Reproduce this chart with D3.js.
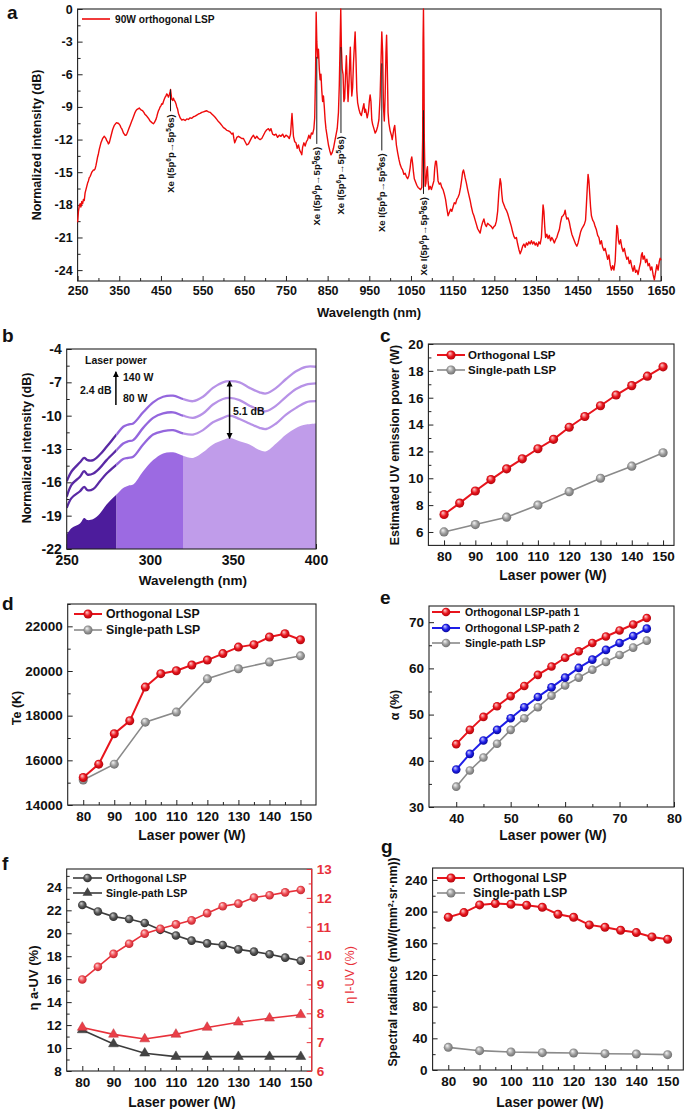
<!DOCTYPE html>
<html><head><meta charset="utf-8">
<script src="https://cdn.jsdelivr.net/npm/d3@7"></script>
<style>
body{margin:0;background:#fff;}
svg{display:block;}
</style></head><body>
<svg id="fig" width="685" height="1109"></svg>
<script>
// ================= DATA =================
// Panel a: 90W orthogonal LSP spectrum [wavelength nm, normalized intensity dB]
const spectrum90W = [
[250,-19.6],[252,-18.6],[254,-18.1],[256,-17.9],[258,-18.2],[260,-17.7],[262,-17.9],[264,-17.5],[266,-17.6],[268,-16.9],
[270,-16.6],[272,-16.3],[274,-16.0],[276,-15.8],[278,-15.5],[280,-15.4],[282,-15.2],[284,-15.0],[286,-14.9],[288,-14.8],
[290,-14.8],[292,-14.7],[294,-14.4],[296,-14.0],[298,-13.6],[300,-13.3],[302,-12.9],[304,-12.6],[306,-12.3],[308,-12.1],
[310,-11.9],[312,-11.8],[314,-11.7],[316,-11.8],[318,-11.9],[320,-12.1],[322,-12.2],[324,-12.4],[326,-12.3],[328,-12.0],
[330,-11.7],[332,-11.4],[334,-11.1],[336,-10.9],[338,-10.7],[340,-10.6],[342,-10.5],[344,-10.45],[346,-10.5],[348,-10.5],
[350,-10.6],[352,-10.7],[354,-10.9],[356,-11.0],[358,-11.2],[360,-11.4],[362,-11.5],[364,-11.6],[366,-11.6],[368,-11.5],
[370,-11.3],[372,-11.1],[374,-10.9],[376,-10.7],[378,-10.5],[380,-10.3],[382,-10.1],[384,-9.9],[386,-9.7],[388,-9.5],
[390,-9.35],[392,-9.25],[394,-9.2],[396,-9.15],[398,-9.1],[400,-9.2],[403,-9.3],[406,-9.35],[409,-9.5],[412,-9.7],
[415,-9.8],[418,-9.95],[421,-10.1],[424,-10.3],[427,-10.4],[430,-10.5],[432,-10.55],[434,-10.45],[436,-10.3],[438,-10.15],
[440,-9.9],[442,-9.6],[444,-9.35],[446,-9.2],[448,-9.0],[450,-8.9],[452,-8.7],[454,-8.75],[456,-8.5],[458,-8.3],
[460,-8.1],[462,-8.0],[464,-7.8],[466,-7.9],[468,-8.1],[470,-7.9],[472,-7.6],[473,-7.4],[474,-7.7],[476,-8.3],
[478,-8.4],[480,-8.2],[482,-8.4],[484,-8.5],[486,-8.7],[488,-9.0],[490,-9.2],[492,-9.6],[494,-9.8],[496,-10.0],
[498,-10.1],[500,-10.2],[504,-10.15],[508,-10.25],[512,-10.1],[516,-10.15],[520,-10.0],[524,-10.05],[528,-9.9],[532,-9.85],
[536,-9.75],[540,-9.65],[544,-9.6],[548,-9.5],[552,-9.45],[556,-9.4],[560,-9.35],[564,-9.45],[568,-9.5],[572,-9.65],
[576,-9.8],[580,-9.95],[584,-10.15],[588,-10.35],[592,-10.5],[596,-10.7],[600,-10.9],[604,-11.0],[608,-11.15],[612,-11.2],
[616,-11.3],[620,-11.5],[623,-11.4],[625,-11.9],[627,-12.3],[629,-12.1],[632,-11.8],[636,-11.7],[640,-11.8],[644,-11.9],
[648,-11.9],[652,-12.2],[656,-12.5],[660,-12.4],[664,-12.1],[668,-11.8],[672,-11.6],[676,-11.9],[680,-11.7],[684,-11.9],
[688,-12.0],[692,-11.9],[696,-11.6],[700,-11.3],[704,-11.1],[708,-11.0],[711,-11.2],[714,-11.0],[718,-11.5],[722,-11.6],
[726,-11.5],[730,-11.8],[734,-11.6],[738,-11.7],[742,-11.5],[746,-11.8],[750,-11.6],[754,-11.7],[758,-11.9],[761,-11.5],
[763,-10.4],[764.5,-9.6],[766,-10.5],[768,-11.7],[771,-12.2],[774,-12.3],[777,-12.8],[780,-12.5],[783,-13.0],[786,-13.2],
[788,-13.4],[790,-12.7],[793,-12.3],[796,-12.6],[799,-12.2],[802,-12.0],[805,-11.6],[808,-11.9],[811,-11.4],[814,-11.5],
[817,-11.0],[819,-10.0],[821,-6.0],[822.5,-0.3],[824,-3.0],[826,-4.5],[828,-3.7],[830,-5.5],[832,-6.5],[834,-6.0],
[836,-7.5],[838,-8.5],[840,-8.0],[842,-9.0],[844,-10.2],[846,-11.0],[848,-11.5],[850,-12.0],[852,-12.5],[855,-13.0],
[858,-13.4],[861,-13.2],[864,-12.8],[867,-12.2],[870,-11.6],[873,-11.0],[876,-9.5],[878,-7.0],[880,-3.0],[881.5,0],
[883,-3.5],[885,-5.5],[887,-6.0],[889,-8.5],[891,-8.2],[893,-6.0],[895,-4.3],[897,-6.5],[899,-8.5],[901,-7.0],
[903,-4.8],[904.5,-3.5],[906,-6.0],[908,-8.0],[910,-7.2],[912,-5.0],[914,-3.5],[916,-2.1],[918,-4.5],[920,-7.5],
[922,-8.6],[925,-9.2],[928,-9.6],[931,-9.8],[934,-9.2],[937,-8.7],[939,-9.5],[941,-9.2],[943,-9.6],[945,-10.0],
[948,-9.4],[950,-8.5],[952,-7.9],[954,-8.5],[956,-10.2],[958,-10.6],[961,-11.0],[964,-11.4],[967,-11.2],[970,-10.8],
[973,-10.2],[976,-8.0],[978,-5.0],[980,-2.1],[982,-4.0],[984,-9.0],[986,-10.3],[988,-8.0],[990,-4.0],[991.5,-2.4],
[993,-5.0],[995,-9.5],[997,-10.5],[1000,-11.2],[1003,-11.6],[1005,-12.0],[1007,-11.5],[1009,-11.0],[1011,-10.7],[1013,-11.6],
[1015,-12.5],[1018,-13.2],[1021,-13.8],[1024,-14.3],[1027,-14.6],[1030,-14.8],[1033,-15.2],[1036,-15.1],[1039,-15.4],[1042,-15.6],
[1045,-15.3],[1048,-14.6],[1050,-13.9],[1052,-13.6],[1054,-14.2],[1056,-15.0],[1058,-15.6],[1061,-15.9],[1064,-16.2],[1067,-16.4],
[1070,-16.5],[1073,-16.6],[1076,-16.4],[1078,-12.0],[1079,-3.0],[1080,0],[1081,-4.0],[1082,-12.0],[1084,-16.3],[1086,-16.0],
[1088,-14.8],[1089.5,-14.5],[1091,-15.8],[1093,-16.6],[1096,-16.3],[1099,-16.6],[1102,-16.2],[1105,-15.8],[1107,-14.6],[1109,-14.0],
[1111,-14.0],[1113,-14.8],[1115,-15.8],[1118,-16.1],[1121,-16.0],[1124,-16.4],[1127,-16.6],[1130,-17.0],[1133,-17.5],[1136,-18.3],
[1139,-19.0],[1142,-18.7],[1145,-18.4],[1148,-18.6],[1151,-18.2],[1154,-17.8],[1157,-17.9],[1160,-17.5],[1163,-17.3],[1166,-17.0],
[1169,-16.4],[1172,-15.6],[1174,-15.0],[1176,-14.8],[1178,-15.1],[1180,-15.5],[1183,-16.0],[1186,-16.6],[1189,-17.1],[1192,-17.6],
[1195,-18.2],[1198,-18.7],[1201,-19.0],[1204,-19.4],[1207,-19.8],[1210,-20.2],[1213,-20.4],[1216,-20.6],[1219,-20.0],[1222,-19.6],
[1225,-19.3],[1228,-19.8],[1231,-20.0],[1234,-19.7],[1237,-19.8],[1240,-19.9],[1243,-20.0],[1246,-20.2],[1249,-20.0],[1252,-19.9],
[1255,-19.5],[1258,-18.6],[1261,-16.8],[1264,-15.6],[1266,-16.0],[1268,-17.0],[1270,-17.7],[1273,-18.0],[1276,-18.3],[1279,-18.5],
[1282,-18.8],[1285,-19.2],[1288,-19.6],[1291,-20.0],[1294,-20.5],[1297,-20.9],[1300,-21.1],[1303,-21.0],[1306,-21.6],[1309,-22.1],
[1312,-22.5],[1315,-22.2],[1318,-21.8],[1321,-21.6],[1324,-21.9],[1327,-21.5],[1330,-21.7],[1333,-21.4],[1336,-21.6],[1339,-21.3],
[1342,-21.6],[1345,-21.4],[1348,-21.7],[1351,-21.5],[1354,-21.8],[1357,-21.4],[1360,-21.6],[1363,-21.0],[1365,-19.5],[1367,-18.0],
[1369,-18.6],[1371,-20.0],[1373,-21.0],[1376,-20.7],[1379,-21.1],[1382,-20.8],[1385,-21.3],[1388,-21.0],[1391,-21.2],[1394,-21.5],
[1397,-21.2],[1400,-21.0],[1403,-20.6],[1406,-20.3],[1409,-19.6],[1412,-19.1],[1415,-19.0],[1418,-18.8],[1420,-18.5],[1422,-19.0],
[1424,-19.3],[1427,-19.2],[1430,-19.6],[1433,-20.2],[1436,-20.7],[1439,-21.0],[1442,-21.3],[1445,-21.6],[1448,-21.8],[1451,-21.5],
[1454,-21.0],[1457,-20.5],[1460,-20.2],[1463,-20.0],[1466,-19.8],[1469,-19.4],[1471,-18.0],[1473,-16.5],[1475,-15.2],[1477,-15.8],
[1479,-17.0],[1481,-18.2],[1483,-19.0],[1486,-19.4],[1489,-19.6],[1492,-20.0],[1495,-20.3],[1498,-20.8],[1501,-21.0],[1504,-21.6],
[1507,-21.3],[1510,-21.9],[1513,-22.2],[1516,-22.0],[1519,-22.5],[1522,-23.0],[1525,-22.6],[1528,-23.5],[1531,-24.0],[1534,-23.6],
[1537,-24.0],[1540,-23.2],[1542,-21.5],[1544,-19.9],[1546,-20.2],[1548,-21.3],[1550,-21.6],[1553,-21.2],[1556,-21.9],[1559,-22.3],
[1562,-22.0],[1565,-22.6],[1568,-23.0],[1571,-22.8],[1574,-23.4],[1577,-23.1],[1580,-23.7],[1583,-24.1],[1586,-23.6],[1589,-24.2],
[1592,-24.0],[1595,-24.4],[1598,-23.8],[1601,-23.3],[1603,-22.6],[1605,-22.4],[1607,-23.0],[1610,-22.7],[1613,-23.3],[1616,-23.0],
[1619,-23.6],[1622,-23.4],[1625,-24.0],[1628,-23.7],[1631,-24.4],[1634,-24.9],[1637,-24.2],[1640,-23.5],[1643,-24.0],[1646,-23.2],
[1648,-22.9],[1650,-23.1]
];
// Xe I line annotations: [wavelength, line top dB, line bottom dB]
const xeLines = [[473,-7.4,-9.4],[824,-4.4,-12.4],[882,-3.5,-11.4],[980,-5.0,-13.0],[1080,-9.3,-17.0]];
const xTicksA = [250,350,450,550,650,750,850,950,1050,1150,1250,1350,1450,1550,1650];
const yTicksA = [0,-3,-6,-9,-12,-15,-18,-21,-24];

// Panel b: UV spectra at increasing laser power
const wavelengthB = [250,253,258,260.5,262.5,266,270,274,280,284,287,290,296,302,308,314,320,326,332,338,344,348,354,360,366,370,376,382,388,394,400];
const specB80  = [-20.7,-20.1,-19.7,-19.2,-19.4,-19.3,-18.8,-18.0,-17.1,-16.5,-16.3,-16.2,-15.0,-14.0,-13.4,-13.3,-13.6,-13.8,-13.3,-12.6,-12.2,-12.0,-12.3,-12.6,-13.1,-13.2,-12.5,-11.7,-11.1,-10.8,-10.7];
const specB100 = [-18.3,-17.4,-16.8,-16.4,-16.7,-16.6,-15.9,-15.2,-14.4,-13.9,-13.8,-13.7,-12.6,-11.7,-11.4,-11.3,-11.6,-11.7,-11.3,-10.6,-10.2,-10.0,-10.3,-10.7,-11.1,-11.2,-10.7,-9.9,-9.3,-8.8,-8.7];
const specB120 = [-17.3,-16.2,-15.5,-15.0,-15.3,-15.2,-14.7,-14.0,-13.1,-12.5,-12.3,-12.2,-11.1,-10.2,-9.8,-9.7,-10.0,-10.2,-9.8,-9.0,-8.5,-8.4,-8.6,-9.1,-9.5,-9.6,-9.1,-8.3,-7.6,-7.2,-7.1];
const specB140 = [-15.9,-15.0,-14.2,-13.8,-14.0,-14.0,-13.5,-12.8,-11.7,-11.0,-10.8,-10.7,-9.7,-8.8,-8.3,-8.2,-8.5,-8.7,-8.3,-7.5,-7.0,-6.9,-7.0,-7.5,-7.9,-8.0,-7.5,-6.7,-6.0,-5.6,-5.6];
const bandEdgesB = [250,280,320,400];

// Power axes
const powerFull = [80,85,90,95,100,105,110,115,120,125,130,135,140,145,150];
const powerTen  = [80,90,100,110,120,130,140,150];
const powerAlpha = [40,42.5,45,47.5,50,52.5,55,57.5,60,62.5,65,67.5,70,72.5,75];

// Panel c: estimated UV emission power (W)
const uvOrth   = [7.3,8.15,9.05,9.9,10.7,11.45,12.2,12.9,13.8,14.6,15.4,16.2,16.9,17.6,18.3];
const uvSingle = [6.0,6.55,7.1,8.0,9.0,10.0,10.9,11.9];

// Panel d: Te (K)
const teOrth   = [15230,15830,17190,17770,19280,19880,20010,20270,20490,20780,21070,21180,21520,21670,21400];
const teSingle = [15120,15830,17710,18160,19650,20100,20400,20680];

// Panel e: alpha (%)
const alphaPath1  = [43.6,46.7,49.5,51.8,54.0,56.2,58.6,60.4,62.3,63.7,65.5,66.9,68.2,69.5,70.9];
const alphaPath2  = [38.1,41.5,44.4,46.7,49.2,51.6,53.8,55.9,58.0,60.1,61.9,64.0,65.5,67.0,68.6];
const alphaSingle = [34.4,37.9,40.7,43.7,46.7,49.2,51.6,54.1,56.3,58.0,59.7,61.4,62.9,64.5,66.0];

// Panel f: efficiencies (%)
const etaAOrth   = [22.46,21.9,21.45,21.24,20.9,20.3,19.8,19.36,19.12,18.98,18.6,18.4,18.17,17.88,17.6];
const etaASingle = [11.58,10.36,9.55,9.25,9.25,9.25,9.25,9.25];
const etaLOrth   = [9.17,9.61,10.06,10.41,10.76,10.93,11.08,11.22,11.47,11.71,11.8,12.01,12.09,12.19,12.27];
const etaLSingle = [7.51,7.27,7.11,7.27,7.51,7.69,7.83,7.95];

// Panel g: spectral radiance
const radOrth   = [192.8,198.7,208.4,210.1,209.3,208.0,205.5,196.6,192.8,183.2,180.2,176.4,173.5,168.0,165.0];
const radSingle = [28.6,24.4,22.7,21.9,21.5,20.6,20.2,19.4];

// ================= DRAWING =================
const FONT = "'Liberation Sans', Arial, Helvetica, sans-serif";
const svg = d3.select("#fig").attr("font-family", FONT).attr("font-weight","bold");
const defs = svg.append("defs");
function grad(id, c0, c1, c2){
  const g = defs.append("radialGradient").attr("id",id).attr("cx","0.5").attr("cy","0.5").attr("r","0.62").attr("fx","0.36").attr("fy","0.3");
  g.append("stop").attr("offset","0").attr("stop-color",c0);
  g.append("stop").attr("offset","0.5").attr("stop-color",c1);
  g.append("stop").attr("offset","1").attr("stop-color",c2);
}
grad("gRed","#ffd0d0","#e8141c","#9a0008");
grad("gGray","#f6f6f6","#9c9c9c","#5e5e5e");
grad("gBlue","#d0d0ff","#1e1ee8","#00007a");
grad("gDark","#d0d0d0","#555555","#1e1e1e");
grad("gRed2","#ffd6d6","#ee4a52","#b31520");

function label(x,y,str,size,opt={}){
  const t = svg.append("text").attr("x",x).attr("y",y).attr("font-size",size)
    .attr("text-anchor",opt.anchor||"start").attr("fill",opt.fill||"#111");
  if(opt.rot) t.attr("transform",`rotate(-90,${x},${y})`);
  if(opt.weight) t.attr("font-weight",opt.weight);
  t.text(str);
  return t;
}

function makePanel(o){
  const x = d3.scaleLinear().domain(o.xDom).range([o.x0,o.x1]);
  const y = d3.scaleLinear().domain(o.yDom).range([o.y1,o.y0]);
  const g = svg.append("g");
  const fs = o.fs || 13.5;
  g.append("g").attr("transform",`translate(0,${o.y1})`)
    .call(d3.axisBottom(x).tickValues(o.xTicks).tickSize(-5).tickPadding(o.xPad||6).tickFormat(d=>d));
  g.append("g").attr("transform",`translate(0,${o.y1})`)
    .call(d3.axisBottom(x).tickValues(o.xMinor).tickSize(-3).tickFormat(""));
  g.append("g").attr("transform",`translate(${o.x0},0)`)
    .call(d3.axisLeft(y).tickValues(o.yTicks).tickSize(-5).tickPadding(o.yPad||5).tickFormat(d=>d));
  g.append("g").attr("transform",`translate(${o.x0},0)`)
    .call(d3.axisLeft(y).tickValues(o.yMinor).tickSize(-3).tickFormat(""));
  g.selectAll(".domain").remove();
  g.selectAll(".tick line").attr("stroke","#222").attr("stroke-width",1);
  g.selectAll(".tick text").attr("font-family",FONT).attr("font-weight","bold").attr("font-size",fs).attr("fill","#111");
  g.selectAll("g").attr("font-family",null).attr("font-size",null);
  const frame = svg.append("rect").attr("x",o.x0).attr("y",o.y0).attr("width",o.x1-o.x0).attr("height",o.y1-o.y0)
    .attr("fill","none").attr("stroke","#222").attr("stroke-width",1.1);
  return {x,y,g,frame};
}

function series(p, xs, ys, color, lw, fill, r, shape, yScale){
  const ysc = yScale || p.y;
  const pts = xs.map((d,i)=>[p.x(d), ysc(ys[i])]);
  svg.append("path").attr("d", d3.line()(pts)).attr("fill","none").attr("stroke",color).attr("stroke-width",lw);
  pts.forEach(pt=>{
    if(shape==="tri"){
      svg.append("path").attr("d", d3.symbol(d3.symbolTriangle, r*r*2.3)()).attr("transform",`translate(${pt[0]},${pt[1]})`)
        .attr("fill",fill).attr("stroke",d3.color(fill).darker(0.6)).attr("stroke-width",0.5);
    } else {
      svg.append("circle").attr("cx",pt[0]).attr("cy",pt[1]).attr("r",r).attr("fill",fill);
    }
  });
}
function legendRow(x0,x1,y,color,lw,fill,r,shape,text,tx,fs){
  svg.append("line").attr("x1",x0).attr("x2",x1).attr("y1",y).attr("y2",y).attr("stroke",color).attr("stroke-width",lw);
  const cx=(x0+x1)/2;
  if(shape==="tri"){
    svg.append("path").attr("d", d3.symbol(d3.symbolTriangle, r*r*2.3)()).attr("transform",`translate(${cx},${y})`).attr("fill",fill);
  } else if(r>0){
    svg.append("circle").attr("cx",cx).attr("cy",y).attr("r",r).attr("fill",fill);
  }
  svg.append("text").attr("x",tx).attr("y",y).attr("dy","0.36em").attr("font-size",fs).attr("fill","#111").text(text);
}

// ---------- Panel a ----------
{
  const p = makePanel({x0:77.6,x1:661,y0:9,y1:281,xDom:[250,1650],yDom:[-25,0],
    xTicks:xTicksA, xMinor:[300,400,500,600,700,800,900,1000,1100,1200,1300,1400,1500,1600],
    yTicks:yTicksA, yMinor:[-1.5,-4.5,-7.5,-10.5,-13.5,-16.5,-19.5,-22.5], fs:12.5, xPad:5, yPad:5});
  p.frame.raise();
  svg.append("path").attr("d", d3.line().x(d=>p.x(d[0])).y(d=>p.y(d[1]))(spectrum90W))
    .attr("fill","none").attr("stroke","#ee0a0a").attr("stroke-width",1.4).attr("stroke-linejoin","round");
  xeLines.forEach(l=>{
    const xx = p.x(l[0]);
    svg.append("line").attr("x1",xx).attr("x2",xx).attr("y1",p.y(l[1])).attr("y2",p.y(l[2])).attr("stroke","#1a1a1a").attr("stroke-width",1);
    const ty = p.y(l[2])+3;
    const t = svg.append("text").attr("x",xx).attr("y",ty).attr("dy","0.35em").attr("font-size",9.5)
      .attr("text-anchor","end").attr("fill","#111").attr("transform",`rotate(-90,${xx},${ty})`);
    t.append("tspan").text("Xe I(5p");
    t.append("tspan").attr("font-size",6.5).attr("baseline-shift","super").text("6");
    t.append("tspan").text("p\u2192");
    t.append("tspan").text("5p");
    t.append("tspan").attr("font-size",6.5).attr("baseline-shift","super").text("5");
    t.append("tspan").text("6s)");
  });
  legendRow(82,110,19,"#ee0a0a",1.6,null,0,null,"90W orthogonal LSP",115,10.2);
  label(369,317,"Wavelength (nm)",13,{anchor:"middle"});
  label(41,145,"Normalized intensity (dB)",12.5,{anchor:"middle",rot:true});
  label(7,19,"a",19);
}

// ---------- Panel b ----------
{
  const p = makePanel({x0:66.7,x1:316,y0:349,y1:549,xDom:[250,400],yDom:[-22,-4],
    xTicks:[250,300,350,400], xMinor:[275,325,375],
    yTicks:[-22,-19,-16,-13,-10,-7,-4], yMinor:[-20.5,-17.5,-14.5,-11.5,-8.5,-5.5], fs:14, xPad:6});
  const fillCols = ["#4d1c9c","#9c6ae2","#c09cea"];
  const lineCols = ["#5a2aa5","#9466dd","#b792e7"];
  const clips = [];
  for(let i=0;i<3;i++){
    const id="clipB"+i;
    defs.append("clipPath").attr("id",id).append("rect")
      .attr("x",p.x(bandEdgesB[i])).attr("width",p.x(bandEdgesB[i+1])-p.x(bandEdgesB[i]))
      .attr("y",340).attr("height",220);
    clips.push(id);
  }
  const area = d3.area().x((d,i)=>p.x(wavelengthB[i])).y0(p.y(-22)).y1(d=>p.y(d)).curve(d3.curveCatmullRom);
  const line = d3.line().x((d,i)=>p.x(wavelengthB[i])).y(d=>p.y(d)).curve(d3.curveCatmullRom);
  for(let i=0;i<3;i++){
    svg.append("path").attr("d",area(specB80)).attr("fill",fillCols[i]).attr("clip-path",`url(#${clips[i]})`);
    [specB100,specB120,specB140].forEach(s=>{
      svg.append("path").attr("d",line(s)).attr("fill","none").attr("stroke",lineCols[i]).attr("stroke-width",2.3).attr("clip-path",`url(#${clips[i]})`);
    });
  }
  p.frame.raise();
  // annotations
  defs.append("marker").attr("id","ah").attr("viewBox","0 0 10 10").attr("refX",9).attr("refY",5)
    .attr("markerWidth",6).attr("markerHeight",7).attr("markerUnits","userSpaceOnUse").attr("orient","auto-start-reverse")
    .append("path").attr("d","M0,0 L10,5 L0,10 z").attr("fill","#000");
  svg.append("line").attr("x1",p.x(279.6)).attr("x2",p.x(279.6)).attr("y1",p.y(-9.05)).attr("y2",p.y(-6.05))
    .attr("stroke","#000").attr("stroke-width",1.5).attr("marker-end","url(#ah)");
  svg.append("line").attr("x1",p.x(348)).attr("x2",p.x(348)).attr("y1",p.y(-6.9)).attr("y2",p.y(-12.05))
    .attr("stroke","#000").attr("stroke-width",1.5).attr("marker-end","url(#ah)").attr("marker-start","url(#ah)");
  label(85,364,"Laser power",10.5);
  label(123,381,"140 W",10.5);
  label(123,402,"80 W",10.5);
  label(80,394,"2.4 dB",10.5);
  label(233,415,"5.1 dB",10.5);
  label(193,585,"Wavelength (nm)",13.5,{anchor:"middle"});
  label(31,448,"Normalized intensity (dB)",12.5,{anchor:"middle",rot:true});
  label(2,342,"b",19);
}

// ---------- Panel c ----------
{
  const p = makePanel({x0:428.4,x1:674,y0:344,y1:545.4,xDom:[75,153.5],yDom:[5,20],
    xTicks:powerTen, xMinor:[85,95,105,115,125,135,145],
    yTicks:[6,8,10,12,14,16,18,20], yMinor:[7,9,11,13,15,17,19]});
  series(p, powerTen, uvSingle, "#8a8a8a", 1.6, "url(#gGray)", 4.6);
  series(p, powerFull, uvOrth, "#e8141c", 2, "url(#gRed)", 4.6);
  legendRow(437,465,355,"#e8141c",2,"url(#gRed)",4.6,null,"Orthogonal LSP",468,11.5);
  legendRow(437,465,370,"#8a8a8a",1.6,"url(#gGray)",4.6,null,"Single-path LSP",468,11.5);
  label(553,580,"Laser power (W)",13.8,{anchor:"middle"});
  label(399,445,"Estimated UV emission power (W)",12.4,{anchor:"middle",rot:true});
  label(380,342,"c",19);
}

// ---------- Panel d ----------
{
  const p = makePanel({x0:67.7,x1:316,y0:604,y1:805,xDom:[75,155],yDom:[14000,23000],
    xTicks:powerTen, xMinor:[85,95,105,115,125,135,145],
    yTicks:[14000,16000,18000,20000,22000], yMinor:[15000,17000,19000,21000,23000]});
  series(p, powerTen, teSingle, "#8a8a8a", 1.6, "url(#gGray)", 4.5);
  series(p, powerFull, teOrth, "#e8141c", 2, "url(#gRed)", 4.5);
  legendRow(74,102,614,"#e8141c",2,"url(#gRed)",4.5,null,"Orthogonal LSP",106,12.3);
  legendRow(74,102,630,"#8a8a8a",1.6,"url(#gGray)",4.5,null,"Single-path LSP",106,12.3);
  label(192,840,"Laser power (W)",13.8,{anchor:"middle"});
  label(21,708,"Te (K)",12.5,{anchor:"middle",rot:true});
  label(2,610,"d",19);
}

// ---------- Panel e ----------
{
  const p = makePanel({x0:429,x1:674,y0:606,y1:807,xDom:[35,80],yDom:[30,73.5],
    xTicks:[40,50,60,70,80], xMinor:[45,55,65,75],
    yTicks:[30,40,50,60,70], yMinor:[35,45,55,65]});
  series(p, powerAlpha, alphaSingle, "#8a8a8a", 1.6, "url(#gGray)", 4.3);
  series(p, powerAlpha, alphaPath2, "#1e1ee8", 2, "url(#gBlue)", 4.3);
  series(p, powerAlpha, alphaPath1, "#e8141c", 2, "url(#gRed)", 4.3);
  legendRow(432,460,612,"#e8141c",2,"url(#gRed)",4.3,null,"Orthogonal LSP-path 1",465,10.5);
  legendRow(432,460,628,"#1e1ee8",2,"url(#gBlue)",4.3,null,"Orthogonal LSP-path 2",465,10.5);
  legendRow(432,460,643,"#8a8a8a",1.6,"url(#gGray)",4.3,null,"Single-path LSP",465,10.5);
  label(553,840,"Laser power (W)",13.8,{anchor:"middle"});
  label(399,705,"\u03b1 (%)",12.5,{anchor:"middle",rot:true});
  label(380,604,"e",19);
}

// ---------- Panel f ----------
{
  const p = makePanel({x0:66.7,x1:311.7,y0:869,y1:1071,xDom:[75,153.5],yDom:[8,25.6],
    xTicks:powerTen, xMinor:[85,95,105,115,125,135,145],
    yTicks:[8,10,12,14,16,18,20,22,24], yMinor:[9,11,13,15,17,19,21,23,25]});
  const yR = d3.scaleLinear().domain([6,13]).range([1071,869]);
  const ar = svg.append("g").attr("transform","translate(311.7,0)")
    .call(d3.axisRight(yR).tickValues([6,7,8,9,10,11,12,13]).tickSize(-5).tickPadding(5).tickFormat(d=>d));
  svg.append("g").attr("transform","translate(311.7,0)")
    .call(d3.axisRight(yR).tickValues([6.5,7.5,8.5,9.5,10.5,11.5,12.5]).tickSize(-3).tickFormat(""))
    .call(g=>g.select(".domain").remove()).selectAll(".tick line").attr("stroke","#e8313a");
  ar.select(".domain").remove();
  ar.selectAll(".tick line").attr("stroke","#e8313a");
  ar.selectAll(".tick text").attr("font-family",FONT).attr("font-weight","bold").attr("font-size",13.5).attr("fill","#e8313a");
  ar.attr("font-family",null).attr("font-size",null);
  svg.append("line").attr("x1",311.7).attr("x2",311.7).attr("y1",869).attr("y2",1071).attr("stroke","#e8313a").attr("stroke-width",1.3);
  series(p, powerFull, etaAOrth, "#3c3c3c", 1.6, "url(#gDark)", 4.3);
  series(p, powerTen, etaASingle, "#3c3c3c", 1.6, "#444444", 4.3, "tri");
  series(p, powerFull, etaLOrth, "#e8313a", 1.6, "url(#gRed2)", 4.3, null, yR);
  series(p, powerTen, etaLSingle, "#e8313a", 1.6, "#ea3f48", 4.3, "tri", yR);
  legendRow(73,102,878,"#3c3c3c",1.6,"url(#gDark)",4.3,null,"Orthogonal LSP",106,10.6);
  legendRow(73,102,893,"#3c3c3c",1.6,"#444444",4.3,"tri","Single-path LSP",106,10.6);
  label(182,1107,"Laser power (W)",13.8,{anchor:"middle"});
  label(38,978,"\u03b7 a-UV (%)",13,{anchor:"middle",rot:true});
  label(354,975,"\u03b7 l-UV (%)",12.5,{anchor:"middle",rot:true,fill:"#e8313a",weight:"normal"});
  label(2,870,"f",19);
}

// ---------- Panel g ----------
{
  const p = makePanel({x0:432.6,x1:683.3,y0:868,y1:1070,xDom:[75,155],yDom:[0,255],
    xTicks:powerTen, xMinor:[85,95,105,115,125,135,145],
    yTicks:[0,40,80,120,160,200,240], yMinor:[20,60,100,140,180,220]});
  series(p, powerTen, radSingle, "#8a8a8a", 1.6, "url(#gGray)", 4.5);
  series(p, powerFull, radOrth, "#e8141c", 2, "url(#gRed)", 4.5);
  legendRow(437,465,878,"#e8141c",2,"url(#gRed)",4.5,null,"Orthogonal LSP",473,12.3);
  legendRow(437,465,893,"#8a8a8a",1.6,"url(#gGray)",4.5,null,"Single-path LSP",473,12.3);
  label(550,1107,"Laser power (W)",13.8,{anchor:"middle"});
  label(397,962,"Spectral radiance (mW/(mm\u00b2\u00b7sr\u00b7nm))",12.1,{anchor:"middle",rot:true});
  label(381,853,"g",19);
}
</script>
</body></html>
